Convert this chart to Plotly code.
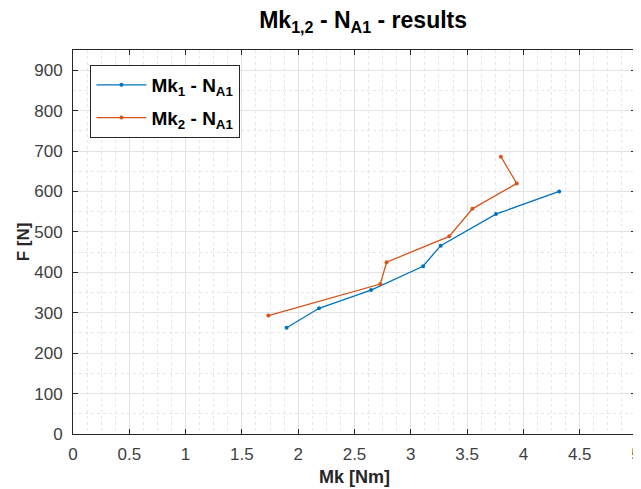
import plotly.graph_objects as go

mk1_x = [1.897, 2.185, 2.647, 3.109, 3.265, 3.756, 4.318]
mk1_y = [263, 311, 356, 415, 466, 544, 600]
mk2_x = [1.735, 2.729, 2.785, 3.341, 3.547, 3.941, 3.800]
mk2_y = [293, 371, 425, 489, 557, 620, 686]

x_ticks = [0, 0.5, 1, 1.5, 2, 2.5, 3, 3.5, 4, 4.5, 5]
x_tick_labels = ["0", "0.5", "1", "1.5", "2", "2.5", "3", "3.5", "4", "4.5", "5"]
y_ticks = [0, 100, 200, 300, 400, 500, 600, 700, 800, 900]

font = "Liberation Sans, Arial, sans-serif"

fig = go.Figure()
fig.add_trace(go.Scatter(x=mk1_x, y=mk1_y, mode="lines+markers",
                         name="<b>Mk<sub>1</sub> - N<sub>A1</sub></b>", legendgroup="a",
                         line=dict(color="#0072BD", width=1.3),
                         marker=dict(color="#0072BD", size=4)))
fig.add_trace(go.Scatter(x=mk2_x, y=mk2_y, mode="lines+markers",
                         name="<b>Mk<sub>2</sub> - N<sub>A1</sub></b>", legendgroup="b",
                         line=dict(color="#D95319", width=1.3),
                         marker=dict(color="#D95319", size=4)))

axis_common = dict(showline=True, linecolor="#262626", linewidth=1, mirror="ticks",
                   ticks="inside", ticklen=5, tickcolor="#262626",
                   showgrid=True, gridcolor="#e3e3e3", gridwidth=1, zeroline=False,
                   automargin=False, ticklabeloverflow="allow",
                   tickfont=dict(family=font, size=17, color="#404040"))

fig.update_xaxes(range=[0, 5], tickvals=x_ticks, ticktext=x_tick_labels,
                 ticklabelstandoff=5,
                 minor=dict(dtick=0.125, showgrid=True, gridcolor="#e6e6e6",
                            griddash="dot", ticks=""),
                 title=dict(text="<b>Mk [Nm]</b>", font=dict(family=font, size=18, color="#262626"),
                            standoff=6),
                 **axis_common)
fig.update_yaxes(range=[0, 950], tickvals=y_ticks,
                 ticklabelstandoff=6,
                 minor=dict(dtick=50, showgrid=True, gridcolor="#e6e6e6",
                            griddash="dot", ticks=""),
                 title=dict(text="<b>F [N]</b>", font=dict(family=font, size=17, color="#262626"),
                            standoff=0),
                 **axis_common)

fig.update_layout(
    width=633, height=481,
    margin=dict(l=65, r=5, t=42, b=55),
    paper_bgcolor="white", plot_bgcolor="white",
    title=dict(text="<b>Mk<sub>1,2</sub> - N<sub>A1</sub> - results</b>",
               xref="container", x=0.561, xanchor="center",
               yref="container", y=0.975, yanchor="middle", automargin=False,
               font=dict(family=font, size=23, color="#000000")),
    legend=dict(x=0.031, y=0.961, xanchor="left", yanchor="top",
                bgcolor="white", bordercolor="#262626", borderwidth=1,
                font=dict(family=font, size=19, color="#000000"),
                itemwidth=50, traceorder="grouped", tracegroupgap=5),
    showlegend=True,
)

fig.write_html("out.html")
